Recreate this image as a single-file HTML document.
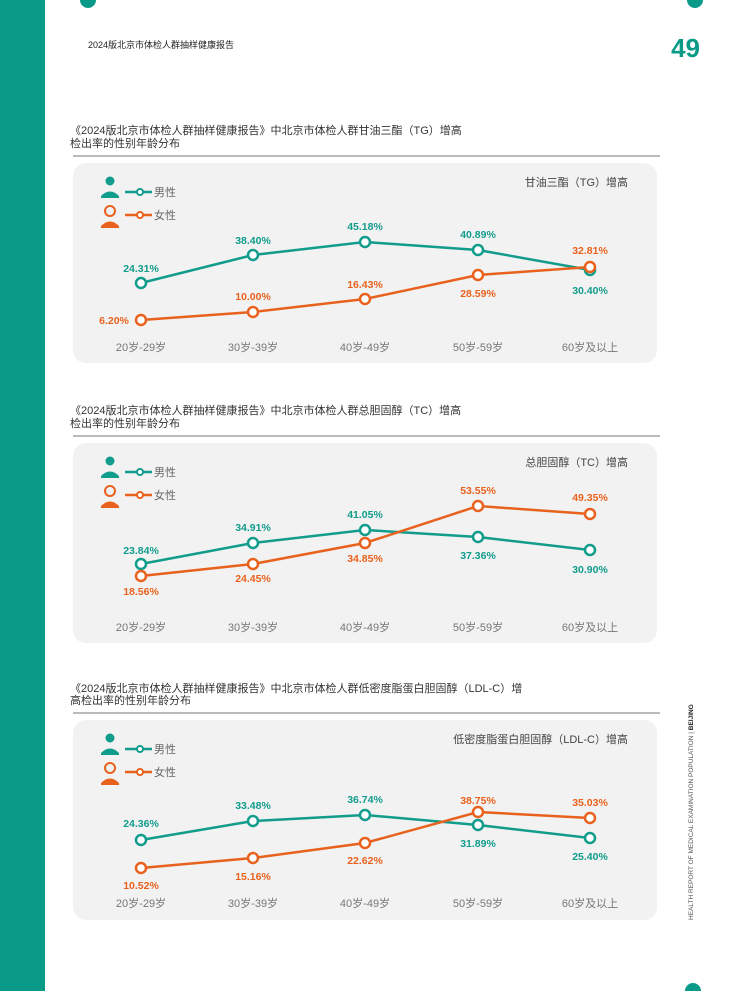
<!DOCTYPE html>
<html><head><meta charset="utf-8"><style>
html,body{margin:0;padding:0;background:#fff}
svg text{font-family:"Liberation Sans","Noto Sans CJK SC",sans-serif}
.t{font-size:11px;fill:#333}
.ax{font-size:11px;fill:#777;text-anchor:middle}
.m{font-size:10.5px;font-weight:bold;fill:#119c8c;text-anchor:middle}
.f{font-size:10.5px;font-weight:bold;fill:#e8621e;text-anchor:middle}
.lg{font-size:11px;fill:#666}
.ct{font-size:11px;fill:#444;text-anchor:end}
</style></head><body>
<svg width="730" height="991" viewBox="0 0 730 991" xmlns="http://www.w3.org/2000/svg">
<rect x="0" y="0" width="45" height="991" fill="#0a9a88"/>
<circle cx="88" cy="0" r="8" fill="#0a9a88"/>
<circle cx="695" cy="0" r="8" fill="#0a9a88"/>
<circle cx="693" cy="991" r="8" fill="#0a9a88"/>
<text x="88" y="48" style="font-size:9px;fill:#222">2024版北京市体检人群抽样健康报告</text>
<text x="700" y="57" style="font-size:26px;font-weight:bold;fill:#0a9a88;text-anchor:end">49</text>
<text transform="translate(693,920) rotate(-90)" style="font-size:6.5px;fill:#555">HEALTH REPORT OF MEDICAL EXAMINATION POPULATION  |  <tspan style="font-weight:bold;fill:#222">BEIJING</tspan></text>

<!-- Chart 1 -->
<text x="70" y="134" class="t">《2024版北京市体检人群抽样健康报告》中北京市体检人群甘油三酯（TG）增高</text>
<text x="70" y="147" class="t">检出率的性别年龄分布</text>
<line x1="73" y1="156" x2="660" y2="156" stroke="#777" stroke-width="1"/>
<rect x="73" y="163" width="584" height="200" rx="13" fill="#f2f2f2"/>
<g transform="translate(0,0)">
<circle cx="110" cy="181" r="4.5" fill="#119c8c"/><path d="M101 196 q9 -9 18 0 v2 h-18z" fill="#119c8c"/>
<line x1="125" y1="192" x2="152" y2="192" stroke="#119c8c" stroke-width="2.5"/><circle cx="140" cy="192" r="3" fill="#fff" stroke="#119c8c" stroke-width="2"/>
<text x="154" y="196" class="lg">男性</text>
<circle cx="110" cy="211" r="5" fill="none" stroke="#e8621e" stroke-width="2"/><path d="M101 226 q9 -9 18 0 v2 h-18z" fill="#e8621e"/>
<line x1="125" y1="215" x2="152" y2="215" stroke="#e8621e" stroke-width="2.5"/><circle cx="140" cy="215" r="3" fill="#fff" stroke="#e8621e" stroke-width="2"/>
<text x="154" y="219" class="lg">女性</text>
</g>
<text x="628" y="186" class="ct">甘油三酯（TG）增高</text>
<polyline points="141,283 253,255 365,242 478,250 590,270" fill="none" stroke="#119c8c" stroke-width="2.5"/>
<polyline points="141,320 253,312 365,299 478,275 590,267" fill="none" stroke="#e8621e" stroke-width="2.5"/>
<g fill="#fff" stroke="#119c8c" stroke-width="2.5"><circle cx="141" cy="283" r="5"/><circle cx="253" cy="255" r="5"/><circle cx="365" cy="242" r="5"/><circle cx="478" cy="250" r="5"/><circle cx="590" cy="270" r="5"/></g>
<g fill="#fff" stroke="#e8621e" stroke-width="2.5"><circle cx="141" cy="320" r="5"/><circle cx="253" cy="312" r="5"/><circle cx="365" cy="299" r="5"/><circle cx="478" cy="275" r="5"/><circle cx="590" cy="267" r="5"/></g>
<text x="141" y="272" class="m">24.31%</text><text x="253" y="244" class="m">38.40%</text><text x="365" y="230" class="m">45.18%</text><text x="478" y="238" class="m">40.89%</text><text x="590" y="294" class="m">30.40%</text>
<text x="114" y="324" class="f">6.20%</text><text x="253" y="300" class="f">10.00%</text><text x="365" y="288" class="f">16.43%</text><text x="478" y="297" class="f">28.59%</text><text x="590" y="254" class="f">32.81%</text>
<text x="141" y="351" class="ax">20岁-29岁</text><text x="253" y="351" class="ax">30岁-39岁</text><text x="365" y="351" class="ax">40岁-49岁</text><text x="478" y="351" class="ax">50岁-59岁</text><text x="590" y="351" class="ax">60岁及以上</text>

<!-- Chart 2 -->
<text x="70" y="414" class="t">《2024版北京市体检人群抽样健康报告》中北京市体检人群总胆固醇（TC）增高</text>
<text x="70" y="427" class="t">检出率的性别年龄分布</text>
<line x1="73" y1="436" x2="660" y2="436" stroke="#777" stroke-width="1"/>
<rect x="73" y="443" width="584" height="200" rx="13" fill="#f2f2f2"/>
<g transform="translate(0,280)">
<circle cx="110" cy="181" r="4.5" fill="#119c8c"/><path d="M101 196 q9 -9 18 0 v2 h-18z" fill="#119c8c"/>
<line x1="125" y1="192" x2="152" y2="192" stroke="#119c8c" stroke-width="2.5"/><circle cx="140" cy="192" r="3" fill="#fff" stroke="#119c8c" stroke-width="2"/>
<text x="154" y="196" class="lg">男性</text>
<circle cx="110" cy="211" r="5" fill="none" stroke="#e8621e" stroke-width="2"/><path d="M101 226 q9 -9 18 0 v2 h-18z" fill="#e8621e"/>
<line x1="125" y1="215" x2="152" y2="215" stroke="#e8621e" stroke-width="2.5"/><circle cx="140" cy="215" r="3" fill="#fff" stroke="#e8621e" stroke-width="2"/>
<text x="154" y="219" class="lg">女性</text>
</g>
<text x="628" y="466" class="ct">总胆固醇（TC）增高</text>
<polyline points="141,564 253,543 365,530 478,537 590,550" fill="none" stroke="#119c8c" stroke-width="2.5"/>
<polyline points="141,576 253,564 365,543 478,506 590,514" fill="none" stroke="#e8621e" stroke-width="2.5"/>
<g fill="#fff" stroke="#119c8c" stroke-width="2.5"><circle cx="141" cy="564" r="5"/><circle cx="253" cy="543" r="5"/><circle cx="365" cy="530" r="5"/><circle cx="478" cy="537" r="5"/><circle cx="590" cy="550" r="5"/></g>
<g fill="#fff" stroke="#e8621e" stroke-width="2.5"><circle cx="141" cy="576" r="5"/><circle cx="253" cy="564" r="5"/><circle cx="365" cy="543" r="5"/><circle cx="478" cy="506" r="5"/><circle cx="590" cy="514" r="5"/></g>
<text x="141" y="554" class="m">23.84%</text><text x="253" y="531" class="m">34.91%</text><text x="365" y="518" class="m">41.05%</text><text x="478" y="559" class="m">37.36%</text><text x="590" y="573" class="m">30.90%</text>
<text x="141" y="595" class="f">18.56%</text><text x="253" y="582" class="f">24.45%</text><text x="365" y="562" class="f">34.85%</text><text x="478" y="494" class="f">53.55%</text><text x="590" y="501" class="f">49.35%</text>
<text x="141" y="631" class="ax">20岁-29岁</text><text x="253" y="631" class="ax">30岁-39岁</text><text x="365" y="631" class="ax">40岁-49岁</text><text x="478" y="631" class="ax">50岁-59岁</text><text x="590" y="631" class="ax">60岁及以上</text>

<!-- Chart 3 -->
<text x="70" y="692" class="t">《2024版北京市体检人群抽样健康报告》中北京市体检人群低密度脂蛋白胆固醇（LDL-C）增</text>
<text x="70" y="704" class="t">高检出率的性别年龄分布</text>
<line x1="73" y1="713" x2="660" y2="713" stroke="#777" stroke-width="1"/>
<rect x="73" y="720" width="584" height="200" rx="13" fill="#f2f2f2"/>
<g transform="translate(0,557)">
<circle cx="110" cy="181" r="4.5" fill="#119c8c"/><path d="M101 196 q9 -9 18 0 v2 h-18z" fill="#119c8c"/>
<line x1="125" y1="192" x2="152" y2="192" stroke="#119c8c" stroke-width="2.5"/><circle cx="140" cy="192" r="3" fill="#fff" stroke="#119c8c" stroke-width="2"/>
<text x="154" y="196" class="lg">男性</text>
<circle cx="110" cy="211" r="5" fill="none" stroke="#e8621e" stroke-width="2"/><path d="M101 226 q9 -9 18 0 v2 h-18z" fill="#e8621e"/>
<line x1="125" y1="215" x2="152" y2="215" stroke="#e8621e" stroke-width="2.5"/><circle cx="140" cy="215" r="3" fill="#fff" stroke="#e8621e" stroke-width="2"/>
<text x="154" y="219" class="lg">女性</text>
</g>
<text x="628" y="743" class="ct">低密度脂蛋白胆固醇（LDL-C）增高</text>
<polyline points="141,840 253,821 365,815 478,825 590,838" fill="none" stroke="#119c8c" stroke-width="2.5"/>
<polyline points="141,868 253,858 365,843 478,812 590,818" fill="none" stroke="#e8621e" stroke-width="2.5"/>
<g fill="#fff" stroke="#119c8c" stroke-width="2.5"><circle cx="141" cy="840" r="5"/><circle cx="253" cy="821" r="5"/><circle cx="365" cy="815" r="5"/><circle cx="478" cy="825" r="5"/><circle cx="590" cy="838" r="5"/></g>
<g fill="#fff" stroke="#e8621e" stroke-width="2.5"><circle cx="141" cy="868" r="5"/><circle cx="253" cy="858" r="5"/><circle cx="365" cy="843" r="5"/><circle cx="478" cy="812" r="5"/><circle cx="590" cy="818" r="5"/></g>
<text x="141" y="827" class="m">24.36%</text><text x="253" y="809" class="m">33.48%</text><text x="365" y="803" class="m">36.74%</text><text x="478" y="847" class="m">31.89%</text><text x="590" y="860" class="m">25.40%</text>
<text x="141" y="889" class="f">10.52%</text><text x="253" y="880" class="f">15.16%</text><text x="365" y="864" class="f">22.62%</text><text x="478" y="804" class="f">38.75%</text><text x="590" y="806" class="f">35.03%</text>
<text x="141" y="907" class="ax">20岁-29岁</text><text x="253" y="907" class="ax">30岁-39岁</text><text x="365" y="907" class="ax">40岁-49岁</text><text x="478" y="907" class="ax">50岁-59岁</text><text x="590" y="907" class="ax">60岁及以上</text>
</svg>
</body></html>
